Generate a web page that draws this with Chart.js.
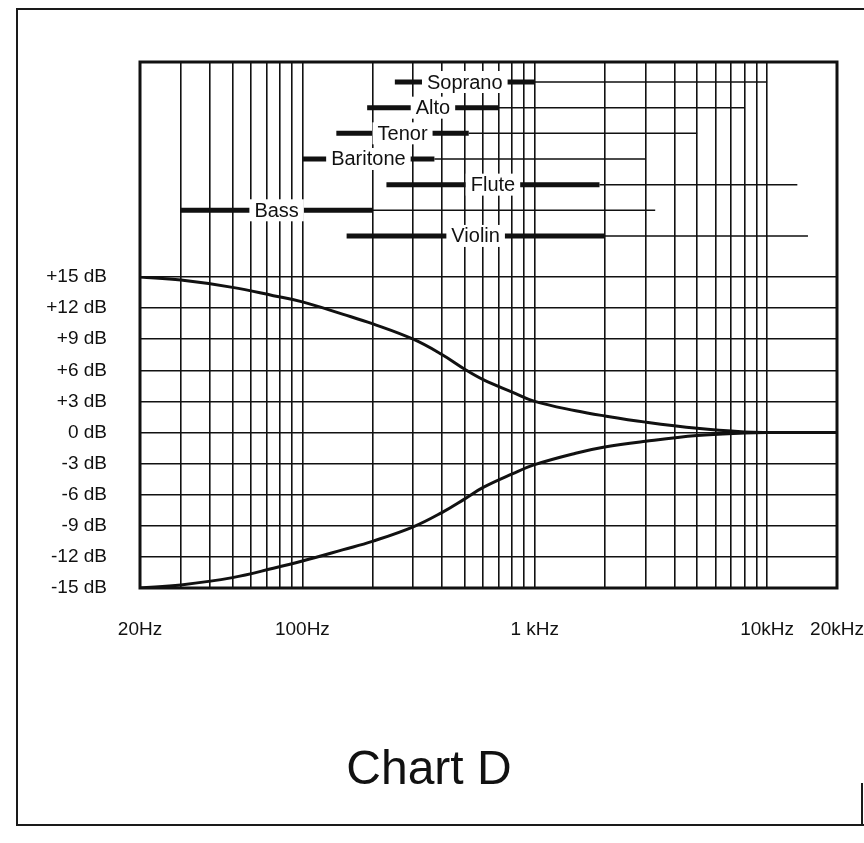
<!DOCTYPE html>
<html>
<head>
<meta charset="utf-8">
<title>Chart D</title>
<script src="https://cdn.jsdelivr.net/npm/chart.js@4.4.1/dist/chart.umd.min.js"></script>
<style>
  html, body { margin: 0; padding: 0; background: #fff; }
  #page { position: relative; width: 864px; height: 843px; overflow: hidden; font-family: "Liberation Sans", Arial, sans-serif; }
  #frame { position: absolute; left: 16px; top: 8px; width: 848px; height: 818px; border: 2px solid #1a1a1a; border-right: none; box-sizing: border-box; }
  #frameRight { position: absolute; left: 861px; top: 783px; width: 2px; height: 43px; background: #1a1a1a; }
  #eq { position: absolute; left: 0; top: 0; }
  #title { position: absolute; left: 0; top: 744px; width: 858px; text-align: center; font-size: 48px; line-height: 48px; color: #111; }
</style>
</head>
<body>
<div id="page">
  <div id="frame"></div>
  <div id="frameRight"></div>
  <canvas id="eq" width="864" height="843"></canvas>
  <div id="title">Chart D</div>
</div>
<script>
// ─── Data ────────────────────────────────────────────────────────

// boost / cut response curves (dB at each frequency)
const freqs = [20, 30, 50, 75, 100, 150, 200, 300, 400, 500, 600, 800, 1000, 1500, 2000, 3000, 5000, 8000, 10000, 20000];
const boost = [15, 14.7, 14.0, 13.2, 12.6, 11.4, 10.5, 9.0, 7.5, 6.1, 5.1, 3.9, 3.0, 2.1, 1.6, 1.0, 0.4, 0.05, 0, 0];
const cut   = [-15, -14.7, -14.0, -13.1, -12.4, -11.3, -10.5, -9.1, -7.7, -6.4, -5.3, -4.0, -3.1, -2.0, -1.4, -0.85, -0.3, -0.05, 0, 0];

// instrument ranges: thick = fundamentals, thin = harmonics
const instruments = ['Soprano', 'Alto', 'Tenor', 'Baritone', 'Flute', 'Bass', 'Violin'];
const fundLow  = [250, 190, 140, 100, 230, 30, 155];
const fundHigh = [1000, 700, 520, 370, 1900, 200, 2000];
const harmHigh = [10000, 8000, 5000, 3000, 13500, 3300, 15000];

// axes
const gridFreqs = [20, 30, 40, 50, 60, 70, 80, 90, 100,
                   200, 300, 400, 500, 600, 700, 800, 900, 1000,
                   2000, 3000, 4000, 5000, 6000, 7000, 8000, 9000, 10000, 20000];
const freqLabels = { 20: '20Hz', 100: '100Hz', 1000: '1 kHz', 10000: '10kHz', 20000: '20kHz' };
const dbTicks = [-15, -12, -9, -6, -3, 0, 3, 6, 9, 12, 15];

// ─── Helpers ─────────────────────────────────────────────────────

const INK = '#111';
const FONT = '"Liberation Sans", Arial, sans-serif';

function rangeSegments(lo, hi) {
  // one row per instrument, a null point breaks the line between rows
  const pts = [];
  instruments.forEach((name, i) => {
    pts.push({ x: lo[i], y: i + 1 });
    pts.push({ x: hi[i], y: i + 1 });
    pts.push({ x: hi[i], y: null });
  });
  return pts;
}

function curve(values) {
  return freqs.map((f, i) => ({ x: f, y: values[i] }));
}

function dbLabel(v) {
  if (v > 0) return '+' + v + ' dB';
  return v + ' dB';
}

// ─── Plugins ─────────────────────────────────────────────────────

const instrumentLabels = {
  id: 'instrumentLabels',
  afterDatasetsDraw(chart) {
    const { ctx } = chart;
    const x = chart.scales.x;
    const yi = chart.scales.yInst;
    ctx.save();
    ctx.font = '20px ' + FONT;
    ctx.textAlign = 'center';
    ctx.textBaseline = 'middle';
    instruments.forEach((name, i) => {
      const cx = (x.getPixelForValue(fundLow[i]) + x.getPixelForValue(fundHigh[i])) / 2;
      const cy = yi.getPixelForValue(i + 1);
      const w = ctx.measureText(name).width;
      ctx.fillStyle = '#fff';
      ctx.fillRect(cx - w / 2 - 5, cy - 11, w + 10, 22);
      ctx.fillStyle = INK;
      ctx.fillText(name, cx, cy + 1);
    });
    ctx.restore();
  },
};

const plotFrame = {
  id: 'plotFrame',
  afterDraw(chart) {
    const { ctx, chartArea: a } = chart;
    ctx.save();
    ctx.strokeStyle = INK;
    ctx.lineWidth = 3;
    ctx.strokeRect(a.left, a.top, a.right - a.left, a.bottom - a.top);
    ctx.restore();
  },
};

// ─── Chart ───────────────────────────────────────────────────────

Chart.defaults.font.family = FONT;
Chart.defaults.color = INK;

new Chart(document.getElementById('eq'), {
  type: 'line',
  data: {
    datasets: [
      { data: curve(boost), yAxisID: 'y', borderColor: INK, borderWidth: 3, pointRadius: 0, tension: 0.4 },
      { data: curve(cut),   yAxisID: 'y', borderColor: INK, borderWidth: 3, pointRadius: 0, tension: 0.4 },
      { data: rangeSegments(fundHigh, harmHigh), yAxisID: 'yInst', borderColor: INK, borderWidth: 1.5, pointRadius: 0, spanGaps: false },
      { data: rangeSegments(fundLow, fundHigh),  yAxisID: 'yInst', borderColor: INK, borderWidth: 5, pointRadius: 0, spanGaps: false, borderCapStyle: 'butt' },
    ],
  },
  options: {
    responsive: false,
    animation: false,
    events: [],
    layout: { padding: { top: 62, right: 27, left: 0, bottom: 0 } },
    plugins: { legend: { display: false }, tooltip: { enabled: false } },
    scales: {
      x: {
        type: 'logarithmic',
        min: 20,
        max: 20000,
        afterBuildTicks: (s) => { s.ticks = gridFreqs.map((v) => ({ value: v })); },
        afterFit: (s) => { s.height = 843 - 588; s.paddingLeft = 0; s.paddingRight = 0; },
        border: { display: false },
        grid: { color: INK, lineWidth: 1.6, drawTicks: false },
        ticks: {
          autoSkip: false,
          maxRotation: 0,
          minRotation: 0,
          padding: 30,
          font: { size: 19 },
          callback: (v) => freqLabels[v] || '',
        },
      },
      y: {
        type: 'linear',
        position: 'left',
        stack: 'left',
        stackWeight: 311,
        min: -15,
        max: 15,
        afterBuildTicks: (s) => { s.ticks = dbTicks.map((v) => ({ value: v })); },
        afterFit: (s) => { s.width = 140; s.paddingTop = 0; s.paddingBottom = 0; },
        border: { display: false },
        grid: { color: INK, lineWidth: 1.6, drawTicks: false },
        ticks: { autoSkip: false, padding: 33, font: { size: 19 }, callback: dbLabel },
      },
      yInst: {
        type: 'linear',
        position: 'left',
        stack: 'left',
        stackWeight: 215,
        reverse: true,
        min: 0.22,
        max: 8.6,
        afterFit: (s) => { s.width = 140; },
        border: { display: false },
        grid: { display: false },
        ticks: { display: false },
      },
    },
  },
  plugins: [instrumentLabels, plotFrame],
});
</script>
</body>
</html>
